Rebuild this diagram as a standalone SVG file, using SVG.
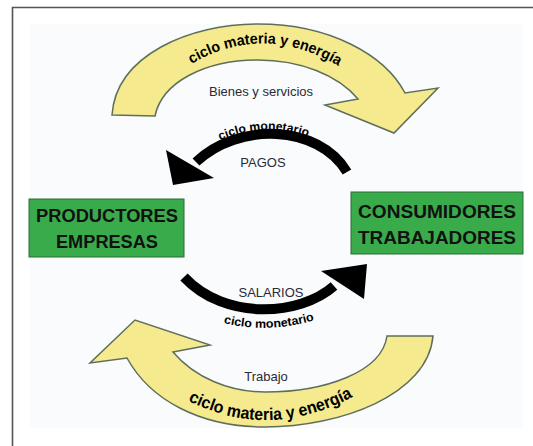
<svg xmlns="http://www.w3.org/2000/svg" width="533" height="446" viewBox="0 0 533 446">
<style>
.frame{fill:none;stroke:#555;stroke-width:1.6}
.yarrow{fill:#f5eb8e;stroke:#5f6e5c;stroke-width:1.5;stroke-linejoin:miter}
.marc{fill:none;stroke:#000;stroke-width:10}
.mhead{fill:#000}
.box{fill:#3aab4b;stroke:#2b6b38;stroke-width:1}
.boxt{font-family:"Liberation Sans",Arial,sans-serif;font-weight:bold;font-size:18px;fill:#111;text-anchor:middle}
.lbl{font-family:"Liberation Sans",Arial,sans-serif;font-size:13px;fill:#2a2a35;text-anchor:middle}
.arc{font-family:"Liberation Sans",Arial,sans-serif;font-weight:bold;fill:#000}
</style>
<defs>
<path id="pTop" d="M 185,68 Q 263,18 345,70"/>
<path id="pMonTop" d="M 212,144 Q 264,118 316,140"/>
<path id="pMonBot" d="M 220,322 Q 268,335 318,319"/>
<path id="pBot" d="M 183,398 Q 268,444 358,394"/>
</defs>
<rect x="0" y="0" width="533" height="446" fill="#ffffff"/>
<rect x="30" y="24" width="493" height="404" fill="#fafbfd"/>
<path class="frame" d="M 12.5,446 L 12.5,7.5 L 533,7.5"/>
<g id="connectors">
<g id="flow-bienes">
<path class="yarrow" d="M 112,115 C 116,55 190,24 258,24 C 330,24 385,55 405,93 L 438,88 L 394,133 L 325,105 L 358,99 C 338,75 300,60 258,60 C 205,60 162,82 155,116 Z"/>
<text class="arc" font-size="15"><textPath href="#pTop" startOffset="50%" text-anchor="middle" textLength="155" lengthAdjust="spacingAndGlyphs">ciclo materia y energía</textPath></text>
<text class="lbl" x="261" y="96">Bienes y servicios</text>
</g>
<g id="flow-pagos">
<path class="marc" d="M 347,172 C 318,124 238,122 196,162"/>
<polygon class="mhead" points="166,150 214,178 173,185"/>
<text class="arc" font-size="12"><textPath href="#pMonTop" startOffset="50%" text-anchor="middle" textLength="90" lengthAdjust="spacingAndGlyphs">ciclo monetario</textPath></text>
<text class="lbl" x="263" y="167">PAGOS</text>
</g>
<g id="flow-salarios">
<path class="marc" d="M 184,277 C 225,321 300,316 334,286"/>
<polygon class="mhead" points="321,271 367,264 364,299"/>
<text class="lbl" x="271" y="297">SALARIOS</text>
<text class="arc" font-size="12"><textPath href="#pMonBot" startOffset="50%" text-anchor="middle" textLength="92" lengthAdjust="spacingAndGlyphs">ciclo monetario</textPath></text>
</g>
<g id="flow-trabajo">
<path class="yarrow" d="M 433,336 C 428,395 340,427 265,427 C 200,427 150,400 127,358 L 90,363 L 135,320 L 210,345 L 173,352 C 195,378 230,392 265,392 C 325,392 382,372 387,336 Z"/>
<text class="lbl" x="266" y="381">Trabajo</text>
<text class="arc" font-size="17"><textPath href="#pBot" startOffset="50%" text-anchor="middle" textLength="172" lengthAdjust="spacingAndGlyphs">ciclo materia y energía</textPath></text>
</g>
</g>
<g id="node-productores">
<rect class="box" x="29" y="199" width="155" height="58"/>
<text class="boxt" x="107" y="222" textLength="142" lengthAdjust="spacingAndGlyphs">PRODUCTORES</text>
<text class="boxt" x="107" y="248" textLength="102" lengthAdjust="spacingAndGlyphs">EMPRESAS</text>
</g>
<g id="node-consumidores">
<rect class="box" x="351" y="192" width="172" height="62"/>
<text class="boxt" x="437" y="218" textLength="158" lengthAdjust="spacingAndGlyphs">CONSUMIDORES</text>
<text class="boxt" x="437" y="244" textLength="158" lengthAdjust="spacingAndGlyphs">TRABAJADORES</text>
</g>
</svg>
